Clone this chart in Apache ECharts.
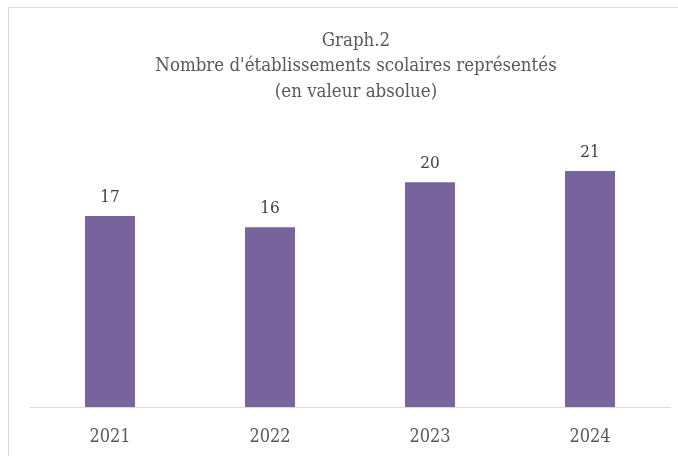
<!DOCTYPE html>
<html>
<head>
<meta charset="utf-8">
<script src="https://cdn.jsdelivr.net/npm/echarts@6/dist/echarts.min.js"></script>
<style>
  html, body { margin: 0; padding: 0; background: #ffffff; }
  #myChart { width: 678px; height: 456px; }
</style>
</head>
<body>
<div id="myChart"></div>
<script>
// données du graphique
const years = ["2021", "2022", "2023", "2024"];
const etablissements = [17, 16, 20, 21];

const myChart = echarts.init(document.getElementById("myChart"));
const serif = "'DejaVu Serif Condensed', 'Liberation Serif', serif";

myChart.setOption({
  backgroundColor: "#ffffff",
  animation: false,
  // cadre du graphique
  graphic: [
    {
      type: "rect",
      shape: { x: 8.5, y: 7.5, width: 700, height: 460 },
      style: { fill: "none", stroke: "#d9d9d9", lineWidth: 1 },
      silent: true,
    },
  ],
  title: {
    text: "Graph.2\nNombre d'établissements scolaires représentés\n(en valeur absolue)",
    left: 351,
    textAlign: "center",
    top: 23,
    textStyle: {
      fontFamily: serif,
      fontSize: 18.5,
      fontWeight: "normal",
      color: "#595959",
      lineHeight: 25.5,
    },
  },
  grid: { left: 30, right: 8, top: 126, bottom: 49 },
  xAxis: {
    type: "category",
    data: years,
    axisLine: { lineStyle: { color: "#d9d9d9", width: 1 } },
    axisTick: { show: false },
    axisLabel: {
      margin: 21,
      fontFamily: serif,
      fontSize: 18,
      color: "#595959",
    },
  },
  yAxis: {
    type: "value",
    min: 0,
    max: 25,
    show: false,
    splitLine: { show: false },
  },
  series: [
    {
      type: "bar",
      data: etablissements,
      barWidth: 50,
      itemStyle: { color: "#77649c" },
      label: {
        show: true,
        position: "top",
        distance: 10,
        fontFamily: serif,
        fontSize: 17,
        color: "#404040",
      },
    },
  ],
});
</script>
</body>
</html>
